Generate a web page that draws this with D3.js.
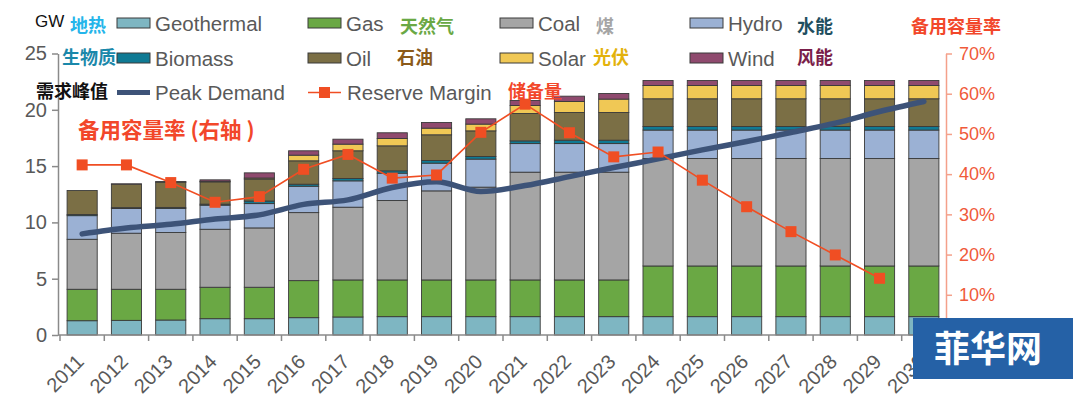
<!DOCTYPE html>
<html>
<head>
<meta charset="utf-8">
<script src="https://cdn.jsdelivr.net/npm/d3@7"></script>
<style>
  body { margin: 0; background: #fff; }
  svg text { font-family: "Liberation Sans", Arial, sans-serif; }
  .cn { font-family: "Noto Sans CJK SC", sans-serif; font-weight: bold; }
</style>
</head>
<body>
<div id="viz"></div>
<script>
// data (GW)
var years = ['2011','2012','2013','2014','2015','2016','2017','2018','2019','2020',
             '2021','2022','2023','2024','2025','2026','2027','2028','2029','2030'];
var geothermal = [1.27,1.30,1.33,1.45,1.45,1.54,1.60,1.63,1.63,1.63,1.63,1.63,1.63,1.63,1.63,1.63,1.63,1.63,1.63,1.63];
var gas        = [2.79,2.76,2.73,2.79,2.79,3.29,3.29,3.26,3.26,3.26,3.26,3.26,3.26,4.50,4.50,4.50,4.50,4.50,4.50,4.50];
var coal       = [4.44,4.98,5.04,5.15,5.27,6.04,6.46,7.05,7.91,8.24,9.57,9.57,9.57,9.54,9.54,9.54,9.54,9.54,9.54,9.54];
var hydro      = [2.10,2.19,2.13,2.14,2.16,2.34,2.34,2.43,2.46,2.49,2.54,2.54,2.54,2.53,2.53,2.53,2.53,2.53,2.53,2.53];
var biomass    = [0.10,0.08,0.10,0.09,0.23,0.18,0.21,0.21,0.24,0.23,0.24,0.30,0.30,0.32,0.32,0.32,0.32,0.32,0.32,0.32];
var oil        = [2.13,2.09,2.24,1.98,1.94,2.08,2.46,2.22,2.28,2.28,2.43,2.46,2.46,2.46,2.46,2.46,2.46,2.46,2.46,2.46];
var solar      = [0,0,0.03,0.05,0.10,0.50,0.59,0.65,0.59,0.60,0.71,0.98,1.19,1.18,1.18,1.18,1.18,1.18,1.18,1.18];
var wind       = [0,0.02,0.02,0.13,0.46,0.39,0.44,0.51,0.50,0.47,0.45,0.47,0.50,0.44,0.44,0.44,0.44,0.44,0.44,0.44];
var peakDemand = [8.98,9.5,9.84,10.3,10.67,11.6,12.0,13.1,13.6,12.74,13.27,14.07,14.87,15.64,16.44,17.18,17.98,18.81,19.85,20.74];
var reserveMargin = [0.423,0.423,0.379,0.330,0.344,0.412,0.449,0.390,0.398,0.504,0.574,0.503,0.443,0.455,0.385,0.319,0.257,0.199,0.141,null];
var leftTicks = [0,5,10,15,20,25];
var rightTicks = [0.1,0.2,0.3,0.4,0.5,0.6,0.7];

var seriesKeys = ['geothermal','gas','coal','hydro','biomass','oil','solar','wind'];
var seriesVals = [geothermal,gas,coal,hydro,biomass,oil,solar,wind];
var colors = {geothermal:'#7eb6c2', gas:'#6aa844', coal:'#a5a5a5', hydro:'#9bb1d4',
              biomass:'#0f7a94', oil:'#7b6f45', solar:'#f0c855', wind:'#8f4a6e'};

var rows = years.map(function(y, i) {
  var r = {year: y};
  seriesKeys.forEach(function(k, j) { r[k] = seriesVals[j][i]; });
  return r;
});

var chartW = 1080, chartH = 397;
var plotBottom = 335, plotTop = 53.5, plotLeft = 60, plotRight = 946;

var svg = d3.select('#viz').append('svg')
    .attr('width', chartW)
    .attr('height', chartH);

var xScale = d3.scaleBand()
    .domain(years)
    .range([plotLeft, plotRight])
    .paddingInner(0.32)
    .paddingOuter(0.16);

var yScale = d3.scaleLinear().domain([0, 25]).range([plotBottom, plotTop]);
var yRight = d3.scaleLinear().domain([0, 0.7]).range([plotBottom, plotTop]);

// stacked bars
var stack = d3.stack().keys(seriesKeys)(rows);
svg.append('g').selectAll('g')
  .data(stack)
  .join('g')
    .attr('fill', function(d) { return colors[d.key]; })
  .selectAll('rect')
  .data(function(d) { return d; })
  .join('rect')
    .attr('x', function(d) { return xScale(d.data.year); })
    .attr('y', function(d) { return yScale(d[1]); })
    .attr('width', xScale.bandwidth())
    .attr('height', function(d) { return yScale(d[0]) - yScale(d[1]); })
    .attr('stroke', '#3a3a3a')
    .attr('stroke-width', 0.9);

// left axis
var yAxis = d3.axisLeft(yScale).tickValues(leftTicks).tickSize(6).tickSizeOuter(0);
var yGuide = svg.append('g')
    .attr('transform', 'translate(' + (plotLeft - 2) + ',0)')
    .call(yAxis);
yGuide.select('.domain').attr('stroke', '#8a8a8a').attr('stroke-width', 1.5);
yGuide.selectAll('.tick line').attr('stroke', '#8a8a8a').attr('stroke-width', 1.5);
yGuide.selectAll('.tick text')
    .attr('fill', '#595959')
    .style('font-size', '20px')
    .attr('x', -11);

// right axis
var rAxis = d3.axisRight(yRight).tickValues(rightTicks).tickSize(6).tickSizeOuter(0)
    .tickFormat(d3.format('.0%'));
var rGuide = svg.append('g')
    .attr('transform', 'translate(' + plotRight + ',0)')
    .call(rAxis);
rGuide.select('.domain').attr('stroke', '#f4a08a').attr('stroke-width', 1.5);
rGuide.selectAll('.tick line').attr('stroke', '#f4a08a').attr('stroke-width', 1.5);
rGuide.selectAll('.tick text')
    .attr('fill', '#f05a3a')
    .style('font-size', '18px')
    .attr('x', 13);

// x axis
var step = xScale.step();
var xGuide = svg.append('g');
xGuide.append('line')
    .attr('x1', plotLeft - 2).attr('x2', plotRight)
    .attr('y1', plotBottom).attr('y2', plotBottom)
    .attr('stroke', '#8a8a8a').attr('stroke-width', 1.5);
xGuide.selectAll('line.tk')
  .data(years)
  .join('line')
    .attr('class', 'tk')
    .attr('x1', function(d) { return xScale(d) - step * 0.16; })
    .attr('x2', function(d) { return xScale(d) - step * 0.16; })
    .attr('y1', plotBottom).attr('y2', plotBottom + 6)
    .attr('stroke', '#8a8a8a').attr('stroke-width', 1.5);
xGuide.selectAll('text')
  .data(years)
  .join('text')
    .attr('transform', function(d) {
      return 'translate(' + (xScale(d) + xScale.bandwidth() / 2 + 3) + ',' + (plotBottom + 28) + ') rotate(-45)';
    })
    .attr('text-anchor', 'end')
    .attr('fill', '#595959')
    .style('font-size', '20px')
    .text(function(d) { return d; });

// peak demand line
var lineFunc = d3.line()
    .x(function(d, i) { return xScale(years[i]) + xScale.bandwidth() / 2; })
    .y(function(d) { return yScale(d); })
    .curve(d3.curveMonotoneX);
svg.append('path')
    .attr('d', lineFunc(peakDemand))
    .attr('fill', 'none')
    .attr('stroke', '#3d5378')
    .attr('stroke-width', 5.5)
    .attr('stroke-linecap', 'round');

// reserve margin line
var rmPts = reserveMargin.map(function(v, i) { return {year: years[i], v: v}; })
    .filter(function(d) { return d.v !== null; });
var rmLine = d3.line()
    .x(function(d) { return xScale(d.year) + xScale.bandwidth() / 2; })
    .y(function(d) { return yRight(d.v); });
svg.append('path')
    .attr('d', rmLine(rmPts))
    .attr('fill', 'none')
    .attr('stroke', '#f04e23')
    .attr('stroke-width', 1.6);
svg.append('g').selectAll('rect')
  .data(rmPts)
  .join('rect')
    .attr('x', function(d) { return xScale(d.year) + xScale.bandwidth() / 2 - 5.5; })
    .attr('y', function(d) { return yRight(d.v) - 5.5; })
    .attr('width', 11).attr('height', 11)
    .attr('fill', '#f04e23');

// legend
var legend = svg.append('g');
function cnLabel(x, y, txt, col, size) {
  legend.append('text').attr('class', 'cn')
    .attr('x', x).attr('y', y)
    .attr('fill', col)
    .style('font-size', (size || 18) + 'px')
    .text(txt);
}
function swatch(x, y, key, label) {
  legend.append('rect')
    .attr('x', x).attr('y', y - 5).attr('width', 33).attr('height', 10)
    .attr('fill', colors[key]).attr('stroke', '#3a3a3a').attr('stroke-width', 1);
  legend.append('text')
    .attr('x', x + 38).attr('y', y + 7.5)
    .attr('fill', '#595959')
    .style('font-size', '20.5px')
    .text(label);
}
legend.append('text').attr('x', 35).attr('y', 27).attr('fill', '#111')
    .style('font-size', '17px').text('GW');
cnLabel(70, 32, '地热', '#25b5ea');
swatch(117, 23, 'geothermal', 'Geothermal');
swatch(308, 23, 'gas', 'Gas');
cnLabel(400, 33, '天然气', '#6aa844');
swatch(500, 23, 'coal', 'Coal');
cnLabel(596, 33, '煤', '#a5a5a5');
swatch(690, 23, 'hydro', 'Hydro');
cnLabel(797, 33, '水能', '#1f4f5f');
cnLabel(911, 33, '备用容量率', '#f2472a');

cnLabel(62, 64, '生物质', '#1a88aa');
swatch(117, 58, 'biomass', 'Biomass');
swatch(308, 58, 'oil', 'Oil');
cnLabel(397, 64, '石油', '#8b5a1a');
swatch(500, 58, 'solar', 'Solar');
cnLabel(593, 64, '光伏', '#e3b20c');
swatch(690, 58, 'wind', 'Wind');
cnLabel(797, 64, '风能', '#7a1e4a');

cnLabel(36, 98, '需求峰值', '#111');
legend.append('line').attr('x1', 117).attr('x2', 150).attr('y1', 92.5).attr('y2', 92.5)
    .attr('stroke', '#3d5378').attr('stroke-width', 5);
legend.append('text').attr('x', 155).attr('y', 100).attr('fill', '#595959')
    .style('font-size', '20.5px').text('Peak Demand');
legend.append('line').attr('x1', 308).attr('x2', 341).attr('y1', 92.5).attr('y2', 92.5)
    .attr('stroke', '#f04e23').attr('stroke-width', 1.6);
legend.append('rect').attr('x', 319).attr('y', 87).attr('width', 11).attr('height', 11)
    .attr('fill', '#f04e23');
legend.append('text').attr('x', 347).attr('y', 100).attr('fill', '#595959')
    .style('font-size', '20.5px').text('Reserve Margin');
cnLabel(508, 98, '储备量', '#f2472a');

// annotation
cnLabel(78, 138, '备用容量率 (右轴 )', '#f2472a', 21.5);

// watermark
var wm = svg.append('g');
wm.append('rect').attr('x', 913).attr('y', 318).attr('width', 160).attr('height', 61)
    .attr('fill', '#2561a6');
wm.append('text').attr('class', 'cn')
    .attr('x', 988).attr('y', 362)
    .attr('text-anchor', 'middle')
    .attr('fill', '#fff')
    .style('font-size', '36px')
    .text('菲华网');
</script>
</body>
</html>
